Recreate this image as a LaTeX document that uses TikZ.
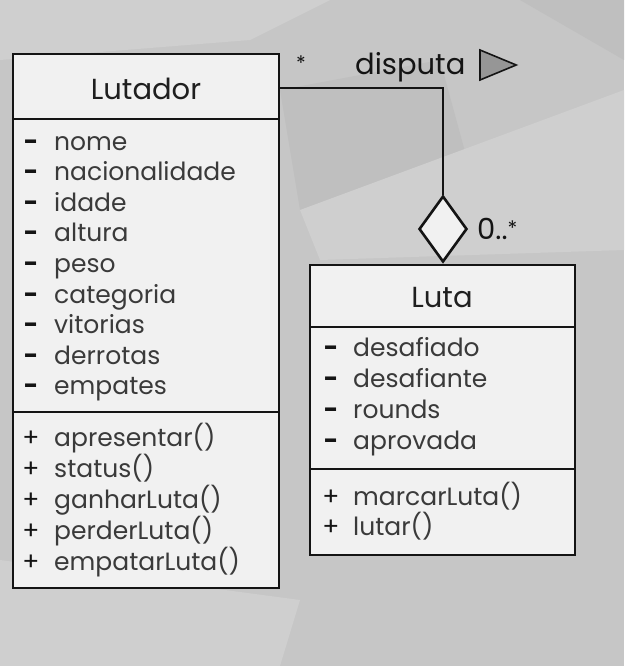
\documentclass[tikz,border=0pt]{standalone}
\usepackage{fontspec}
\setmainfont{Poppins}
\usetikzlibrary{shapes.geometric}
\definecolor{bg}{RGB}{198,198,198}
\definecolor{bglight}{RGB}{207,207,207}
\definecolor{bgdark}{RGB}{191,191,191}
\definecolor{boxfill}{RGB}{241,241,241}
\definecolor{itemcol}{RGB}{58,58,58}
\definecolor{linecol}{RGB}{20,20,20}
\definecolor{trifill}{RGB}{150,150,150}
\tikzset{
  umlbox/.style={draw=linecol,line width=2.6pt,fill=boxfill},
  sepline/.style={draw=linecol,line width=2.6pt},
  item/.style={anchor=base west,inner sep=0pt,font=\fontsize{25}{29}\selectfont,text=itemcol},
  plussym/.style={anchor=base,inner sep=0pt,font=\fontsize{25}{29}\selectfont,text=linecol},
  minussym/.style={anchor=base,inner sep=0pt,font=\fontsize{25}{29}\selectfont\bfseries,text=linecol},
  title/.style={anchor=base,inner sep=0pt,font=\fontsize{29}{33}\selectfont,text=black!88},
  conn/.style={draw=linecol,line width=2.6pt},
  lbl/.style={inner sep=0pt,text=black!92,font=\fontsize{29}{33}\selectfont}
}
\begin{document}
\begin{tikzpicture}[x=1pt,y=-1pt]
\useasboundingbox (0,0) rectangle (624,666);
\fill[bg] (0,0) rectangle (624,666);
% subtle background shading
\fill[bglight] (0,0) -- (330,0) -- (250,40) -- (0,60) -- cycle;
\fill[bgdark] (280,90) -- (440,60) -- (470,170) -- (300,210) -- cycle;
\fill[bglight] (300,210) -- (624,90) -- (624,250) -- (320,260) -- cycle;
\fill[bglight] (0,560) -- (300,600) -- (280,666) -- (0,666) -- cycle;
\fill[bgdark] (520,0) -- (624,0) -- (624,60) -- cycle;
% Lutador
\path[umlbox] (13,54) rectangle (279,588);
\draw[sepline] (13,119) -- (279,119);
\draw[sepline] (13,412) -- (279,412);
\node[title] (lt) at (146,100) {Lutador};
\foreach \t [count=\i] in {nome,nacionalidade,idade,altura,peso,categoria,vitorias,derrotas,empates}{
  \node[minussym] (ld\i) at (31,{150+30.6*(\i-1)}) {-};
  \node[item] (la\i) at (54,{150+30.6*(\i-1)}) {\t};
}
\foreach \t [count=\i] in {apresentar(),status(),ganharLuta(),perderLuta(),empatarLuta()}{
  \node[plussym] (lp\i) at (31,{446+31*(\i-1)}) {+};
  \node[item] (lm\i) at (54,{446+31*(\i-1)}) {\t};
}
% Luta
\path[umlbox] (310,265) rectangle (575,555);
\draw[sepline] (310,327) -- (575,327);
\draw[sepline] (310,469) -- (575,469);
\node[title] (ut) at (442,307) {Luta};
\foreach \t [count=\i] in {desafiado,desafiante,rounds,aprovada}{
  \node[minussym] (ud\i) at (331,{356+31.3*(\i-1)}) {-};
  \node[item] (ua\i) at (353,{356+31.3*(\i-1)}) {\t};
}
\foreach \t [count=\i] in {marcarLuta(),lutar()}{
  \node[plussym] (up\i) at (331,{505+30.5*(\i-1)}) {+};
  \node[item] (um\i) at (353,{505+30.5*(\i-1)}) {\t};
}
% association
\node[diamond,draw=linecol,line width=2.6pt,fill=boxfill,minimum width=48pt,minimum height=66pt,inner sep=0pt] (dia) at (443,229) {};
\coordinate (start) at (279,88);
\coordinate (corner) at (443,88);
\draw[conn] (start) -- (corner) -- (dia.north);
\node[lbl,font=\fontsize{20}{22}\selectfont] (star) at (301,63) {*};
\node[lbl,anchor=base west] (disp) at (355,75) {disputa};
\node[isosceles triangle,draw=linecol,line width=1.6pt,fill=trifill,minimum width=30pt,minimum height=30pt,inner sep=0pt,anchor=center] (tri) at (490,65) {};
\node[lbl,anchor=base west] (mult) at (477,239) {0..\raisebox{4pt}{\fontsize{20}{22}\selectfont *}};
\end{tikzpicture}
\end{document}
